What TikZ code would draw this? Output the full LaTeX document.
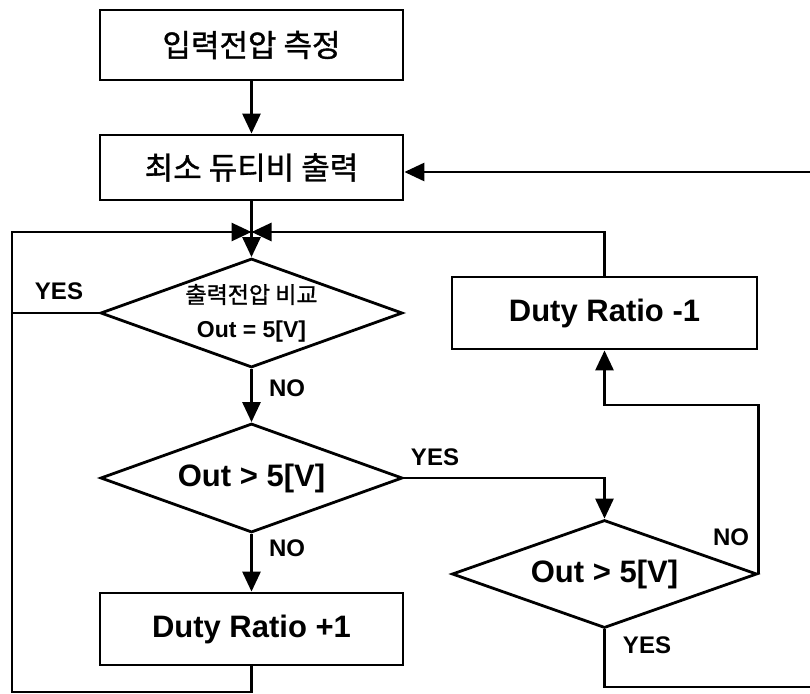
\documentclass[tikz,border=0pt]{standalone}
\usepackage{fontspec}
\setmainfont{Liberation Sans}
\newfontfamily\kofont[FakeBold=1.2]{Noto Sans CJK KR}
\usetikzlibrary{shapes.geometric,arrows.meta}
\begin{document}
\begin{tikzpicture}[x=1pt,y=1pt]
\tikzstyle{every node}+=[inner sep=0pt]
\tikzstyle{box}=[draw,rectangle,line width=2.8pt,minimum width=303pt,minimum height=70pt,font=\fontsize{31}{36}\selectfont]
\tikzstyle{choice}=[draw,diamond,line width=2.8pt,shape aspect=2.77,minimum width=302pt,minimum height=109pt,align=center,font=\fontsize{31}{36}\selectfont\bfseries]
\tikzstyle{flow}=[line width=2.8pt,-{Triangle[length=20pt,width=18pt]}]
\tikzstyle{wire}=[line width=2.8pt]
\tikzstyle{tag}=[font=\fontsize{24}{28}\selectfont\bfseries]
\useasboundingbox (0,0) rectangle (810,-693);
\node[box] (in) at (251.5,-45) {\kofont 입력전압 측정};
\node[box,minimum height=65pt] (min) at (251.5,-167.5) {\kofont 최소 듀티비 출력};
\coordinate (j) at (251.5,-232);
\node[choice] (cmp) at (251.5,-313) {{\kofont\mdseries\fontsize{23}{28}\selectfont 출력전압 비교}\\[-2pt]{\fontsize{23}{28}\selectfont Out = 5[V]}};
\node[choice] (hi) at (251.5,-478) {Out > 5[V]};
\node[box,minimum height=72pt,font=\fontsize{31}{36}\selectfont\bfseries] (up) at (251.5,-629) {Duty Ratio +1};
\node[choice,minimum width=305pt,minimum height=108pt] (hi2) at (604.5,-574) {Out > 5[V]};
\node[box,minimum width=305pt,minimum height=72pt,font=\fontsize{31}{36}\selectfont\bfseries] (down) at (604.5,-313) {Duty Ratio -1};
\coordinate (lt) at (12,-232);
\coordinate (lb) at (12,-692);
\coordinate (rin) at (812,-172);
\coordinate (rb) at (812,-687);
\coordinate (db) at (604.5,-405);
% main column
\draw[flow] (in) -- (min);
\draw[flow] (rin) -- (min.east |- rin);
\draw[flow] (min) -- (cmp.north);
\draw[flow] (cmp) -- (hi);
\draw[flow] (hi) -- (up);
% loops back to the junction
\draw[flow] (up.south) |- (lb) -- (lt) -- (j);
\draw[wire] (cmp.west) -- (cmp.west -| lt);
\draw[flow] (down.north) |- (j);
% right branch
\draw[flow] (hi.east) -| (hi2.north);
\draw[flow] (hi2.east) |- (db) -- (down.south);
\draw[wire] (hi2.south) |- (rb);
% labels
\node[tag] (y1) at (59,-291) {YES};
\node[tag] (n1) at (287,-388) {NO};
\node[tag] (y2) at (435,-457) {YES};
\node[tag] (n2) at (287,-548) {NO};
\node[tag] (n3) at (731,-537) {NO};
\node[tag] (y3) at (647,-645) {YES};
\end{tikzpicture}
\end{document}
